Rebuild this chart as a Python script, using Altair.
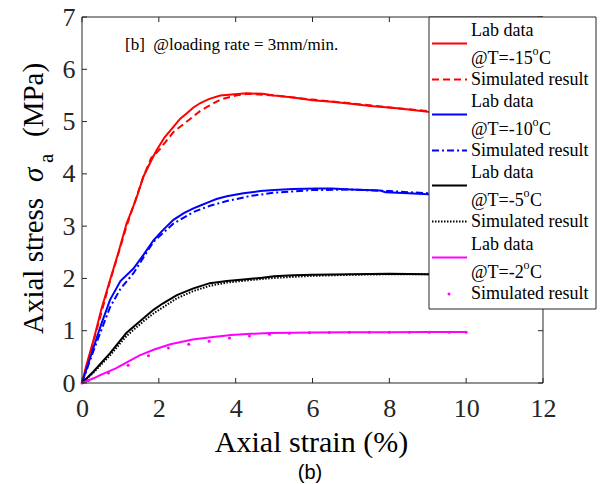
import altair as alt
import pandas as pd

# ---------------- data ----------------
x_ticks = [0, 2, 4, 6, 8, 10, 12]
y_ticks = [0, 1, 2, 3, 4, 5, 6, 7]

red_lab_x = [0, 0.1, 0.3, 0.5, 0.73, 0.95, 1.16, 1.4, 1.6, 1.8, 1.94, 2.15, 2.38, 2.55, 2.73, 2.9,
             3.07, 3.3, 3.6, 3.9, 4.29, 4.7, 5.0, 5.5, 6.0, 6.5, 7.0, 7.5, 8.0, 8.5, 9.0, 9.5, 10.0]
red_lab_y = [0, 0.3, 0.82, 1.4, 1.97, 2.5, 3.05, 3.5, 3.95, 4.25, 4.45, 4.7, 4.9, 5.05, 5.16, 5.27,
             5.35, 5.43, 5.5, 5.52, 5.54, 5.53, 5.5, 5.46, 5.41, 5.38, 5.34, 5.30, 5.27, 5.23, 5.19, 5.17, 5.15]
red_sim_x = [0, 0.3, 0.73, 1.16, 1.6, 1.8, 2.0, 2.38, 2.73, 3.07, 3.3, 3.6, 4.0, 4.3, 5.0, 6.0, 7.0, 8.0, 9.0, 10.0]
red_sim_y = [0, 0.8, 1.95, 3.0, 3.95, 4.3, 4.45, 4.8, 5.0, 5.2, 5.3, 5.42, 5.5, 5.53, 5.5, 5.42, 5.35, 5.27, 5.2, 5.15]

blue_lab_x = [0, 0.3, 0.5, 0.73, 1.0, 1.34, 1.6, 1.86, 2.1, 2.38, 2.65, 2.9, 3.1, 3.33, 3.5, 3.77,
              4.2, 4.64, 5.0, 5.5, 6.1, 6.5, 7.0, 7.76, 7.9, 8.5, 9.0, 9.5, 10.0]
blue_lab_y = [0, 0.68, 1.12, 1.59, 1.95, 2.19, 2.45, 2.73, 2.92, 3.12, 3.25, 3.34, 3.4, 3.47, 3.52, 3.57,
              3.63, 3.67, 3.69, 3.71, 3.72, 3.72, 3.70, 3.68, 3.65, 3.63, 3.61, 3.61, 3.60]
blue_sim_x = [0, 0.3, 0.73, 1.0, 1.34, 1.6, 1.86, 2.38, 2.9, 3.33, 3.77, 4.4, 5.0, 6.0, 7.0, 8.0, 9.0, 10.0]
blue_sim_y = [0, 0.62, 1.45, 1.8, 2.1, 2.4, 2.7, 3.05, 3.27, 3.39, 3.48, 3.58, 3.64, 3.69, 3.70, 3.67, 3.63, 3.60]

black_lab_x = [0, 0.3, 0.73, 1.16, 1.6, 1.86, 2.1, 2.47, 2.9, 3.33, 3.77, 4.2, 4.64, 5.0, 5.5, 6.0, 7.0, 8.0, 9.0, 10.0]
black_lab_y = [0, 0.22, 0.57, 0.96, 1.24, 1.40, 1.52, 1.68, 1.81, 1.91, 1.95, 1.98, 2.01, 2.04, 2.06, 2.07, 2.08, 2.09, 2.08, 2.07]
black_sim_x = [0, 0.3, 0.73, 1.16, 1.6, 1.86, 2.47, 2.9, 3.33, 3.77, 4.4, 5.0, 6.0, 7.0, 8.0, 9.0, 10.0]
black_sim_y = [0, 0.2, 0.53, 0.9, 1.18, 1.33, 1.62, 1.76, 1.86, 1.92, 1.97, 2.01, 2.05, 2.07, 2.08, 2.08, 2.07]

mag_lab_x = [0, 0.3, 0.5, 0.88, 1.2, 1.5, 1.88, 2.3, 2.88, 3.3, 3.88, 4.4, 4.88, 5.5, 6.0, 7.0, 8.0, 9.0, 10.0]
mag_lab_y = [0, 0.09, 0.16, 0.28, 0.41, 0.53, 0.64, 0.74, 0.83, 0.87, 0.92, 0.94, 0.955, 0.96, 0.965, 0.97, 0.97, 0.975, 0.975]
mag_sim_x = [0, 0.17, 0.69, 1.2, 1.73, 2.25, 2.78, 3.31, 3.84, 4.36, 4.88, 5.4, 5.92, 6.44, 6.96, 7.48,
             8.0, 8.52, 9.04, 9.56, 10.0]
mag_sim_y = [0, 0.05, 0.19, 0.34, 0.52, 0.67, 0.74, 0.80, 0.86, 0.90, 0.93, 0.95, 0.96, 0.965, 0.97, 0.97,
             0.97, 0.97, 0.97, 0.97, 0.97]

legend_groups = [
    ("-15", "#ff0000"),
    ("-10", "#0000ff"),
    ("-5", "#000000"),
    ("-2", "#ff00ff"),
]

# ---------------- layout ----------------
SERIF = "Liberation Serif"
SANS = "Liberation Sans"
W, H = 461, 366
FRAME = "#262626"

x_scale = alt.Scale(domain=[0, 12], nice=False, zero=False)
y_scale = alt.Scale(domain=[0, 7], nice=False, zero=False)
xaxis = alt.Axis(values=x_ticks, title=None, ticks=False, domain=False, grid=False,
                 labelFont=SERIF, labelFontSize=26, labelPadding=12, labelColor=FRAME,
                 labelFlush=False, labelOverlap=False, format="d")
yaxis = alt.Axis(values=y_ticks, title=None, ticks=False, domain=False, grid=False,
                 labelFont=SERIF, labelFontSize=26, labelPadding=7, labelColor=FRAME,
                 labelFlush=False, labelOverlap=False, format="d")

dummy = pd.DataFrame({"k": [0]})


def enc(chart):
    return chart.encode(
        x=alt.X("strain:Q", scale=x_scale, axis=xaxis),
        y=alt.Y("stress:Q", scale=y_scale, axis=yaxis),
    )


def line(xs, ys, color, dash=None, width=2.0):
    df = pd.DataFrame({"strain": xs, "stress": ys})
    kw = dict(color=color, strokeWidth=width)
    if dash:
        kw["strokeDash"] = dash
    return enc(alt.Chart(df).mark_line(**kw))


def dots(xs, ys, color):
    df = pd.DataFrame({"strain": xs, "stress": ys})
    return enc(alt.Chart(df).mark_point(filled=True, size=9, color=color, opacity=1))


def text(s, x, y, size=18, font=SERIF, align="left", baseline="middle", angle=None,
         style=None, color="#000000"):
    kw = dict(font=font, fontSize=size, align=align, baseline=baseline, color=color)
    if angle is not None:
        kw["angle"] = angle
    if style:
        kw["fontStyle"] = style
    return alt.Chart(dummy).mark_text(**kw).encode(
        x=alt.value(x), y=alt.value(y), text=alt.value(s))


def prule(x1, y1, x2, y2, color=FRAME, width=1.0, dash=None):
    kw = dict(color=color, strokeWidth=width)
    if dash:
        kw["strokeDash"] = dash
    return alt.Chart(dummy).mark_rule(**kw).encode(
        x=alt.value(x1), y=alt.value(y1), x2=alt.value(x2), y2=alt.value(y2))


layers = []
# curves
layers += [
    line(red_lab_x, red_lab_y, "#ff0000"),
    line(red_sim_x, red_sim_y, "#ff0000", dash=[7, 4]),
    line(blue_lab_x, blue_lab_y, "#0000ff"),
    line(blue_sim_x, blue_sim_y, "#0000ff", dash=[7, 3, 2, 3]),
    line(black_lab_x, black_lab_y, "#000000"),
    line(black_sim_x, black_sim_y, "#000000", dash=[1.5, 1.5]),
    line(mag_lab_x, mag_lab_y, "#ff00ff"),
    dots(mag_sim_x, mag_sim_y, "#ff00ff"),
]

# frame and inward ticks
tx = pd.DataFrame({"strain": x_ticks})
ty = pd.DataFrame({"stress": y_ticks})
layers += [
    prule(0, 0, W, 0), prule(0, H, W, H), prule(0, 0, 0, H), prule(W, 0, W, H),
    alt.Chart(tx).mark_rule(color=FRAME, strokeWidth=1).encode(
        x=alt.X("strain:Q", scale=x_scale, axis=xaxis), y=alt.value(H), y2=alt.value(H - 5)),
    alt.Chart(tx).mark_rule(color=FRAME, strokeWidth=1).encode(
        x=alt.X("strain:Q", scale=x_scale, axis=xaxis), y=alt.value(0), y2=alt.value(5)),
    alt.Chart(ty).mark_rule(color=FRAME, strokeWidth=1).encode(
        y=alt.Y("stress:Q", scale=y_scale, axis=yaxis), x=alt.value(0), x2=alt.value(5)),
    alt.Chart(ty).mark_rule(color=FRAME, strokeWidth=1).encode(
        y=alt.Y("stress:Q", scale=y_scale, axis=yaxis), x=alt.value(W), x2=alt.value(W - 5)),
]

# annotation and titles
layers += [
    text("[b]\u00a0 @loading rate = 3mm/min.", 43, 28, size=17),
    text("Axial strain (%)", 229.5, 435, size=30, align="center", baseline="alphabetic"),
    text("(b)", 228, 462, size=20, font=SANS, align="center", baseline="alphabetic"),
    text("Axial stress", -39, 317, size=29, angle=270, baseline="alphabetic"),
    text("\u03c3", -39, 165, size=29, angle=270, baseline="alphabetic", style="italic"),
    text("a", -29, 146, size=21, angle=270, baseline="alphabetic"),
    text("(MPa)", -39, 120, size=29, angle=270, baseline="alphabetic"),
]

# legend
LX0, LX1, LY0, LY1 = 347, 514, 0, 292
layers.append(
    alt.Chart(dummy).mark_rect(fill="white", stroke=FRAME, strokeWidth=1).encode(
        x=alt.value(LX0), x2=alt.value(LX1), y=alt.value(LY0), y2=alt.value(LY1)))
bases = [14, 85, 156, 228]
sim_dash = [[7, 4], [7, 3, 2, 3], [1.5, 1.5], None]
for (temp, col), b, dsh in zip(legend_groups, bases, sim_dash):
    label = "@T=" + temp
    wlab = 61.6 if len(temp) == 3 else 52.6
    layers += [
        text("Lab data", 389, b),
        prule(350, b + 12.5, 385, b + 12.5, color=col, width=2),
        text(label, 389, b + 27.5),
        text("o", 389 + wlab, b + 20, size=12),
        text("C", 389 + wlab + 6.5, b + 27.5),
        text("Simulated result", 389, b + 48.5),
    ]
    if dsh:
        layers.append(prule(350, b + 48.5, 385, b + 48.5, color=col, width=2, dash=dsh))
    else:
        layers.append(
            alt.Chart(dummy).mark_point(filled=True, size=9, color=col, opacity=1).encode(
                x=alt.value(367), y=alt.value(b + 49)))

chart = alt.layer(*layers).properties(
    width=W, height=H,
    autosize=alt.AutoSizeParams(type="none"),
    padding={"left": 82, "top": 17, "right": 60, "bottom": 101},
    background="white",
).configure_view(stroke=None)

chart.save("out.html", embed_options={"renderer": "svg", "actions": False})
